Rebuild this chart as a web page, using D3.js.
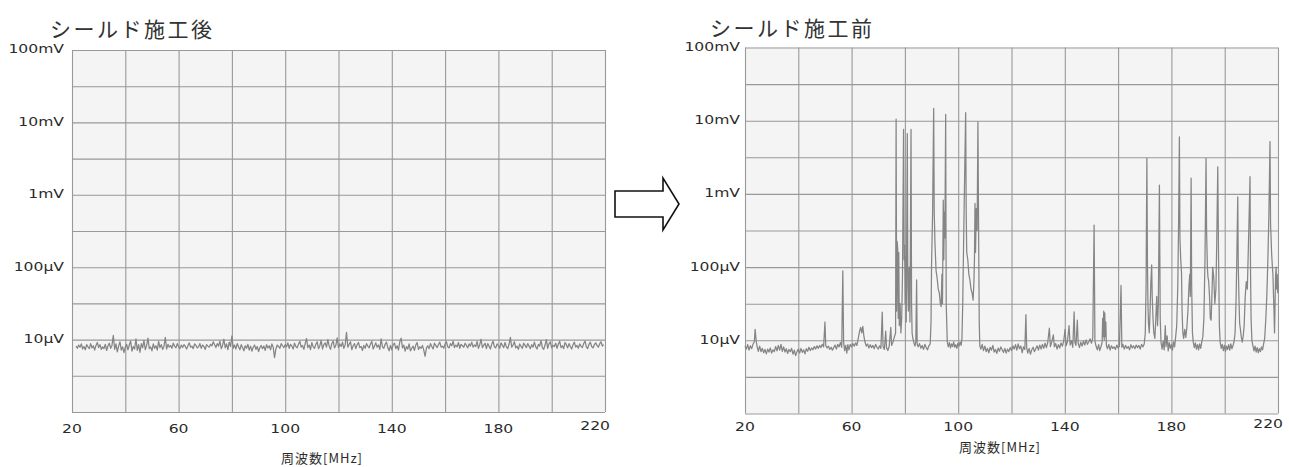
<!DOCTYPE html>
<html>
<head>
<meta charset="utf-8">
<script src="https://cdn.jsdelivr.net/npm/d3@7"></script>
<style>
  body { margin: 0; background: #fff; }
  .grid line { stroke: #999; stroke-width: 1.1; }
  .grid path { display: none; }
  .trace { fill: none; stroke: #858585; stroke-width: 1.25; stroke-linejoin: round; }
  .lbl { font-family: "DejaVu Sans", sans-serif; font-size: 12px; fill: #2a2a2a; }
  .ttl { font-family: "Noto Sans CJK JP", sans-serif; font-size: 21px; fill: #333; letter-spacing: 2.5px; }
  .xttl { font-family: "Noto Sans CJK JP", sans-serif; font-size: 13px; fill: #2a2a2a; letter-spacing: 1px; }
</style>
</head>
<body>
<svg id="chart" width="1289" height="467"></svg>
<script>
// Axis ticks (frequency in MHz, level in dBuV)
var freqTicks   = [20, 60, 100, 140, 180, 220];
var levelTicks  = [20, 40, 60, 80, 100];
var levelLabels = ["10μV", "100μV", "1mV", "10mV", "100mV"];
var titles      = ["シールド施工後", "シールド施工前"];
var freqTitle   = "周波数[MHz]";

// After shielding: sweep from 21.5 MHz, one reading per 0.5 MHz (dBuV)
var afterStart = 21.5, afterStep = 0.5;
var afterLevels = [
  18.2, 17.6, 18.5, 17.9, 18.8, 17.4, 18.1, 17.2, 18.6, 18.0, 17.5, 18.9, 17.7, 18.3, 17.1, 18.4, 19.2, 17.8, 18.6, 17.3,
  18.0, 17.5, 18.7, 17.0, 18.3, 19.0, 17.6, 18.4, 21.2, 17.3, 18.8, 16.6, 18.2, 19.4, 17.1, 18.0, 16.4, 17.9, 18.7, 17.2,
  18.5, 19.6, 16.8, 18.1, 17.4, 20.2, 17.0, 18.6, 16.5, 18.9, 17.7, 19.8, 17.2, 18.4, 20.4, 17.5, 18.0, 16.9, 18.8, 17.6,
  18.3, 17.1, 19.5, 17.8, 18.6, 17.3, 18.1, 20.6, 17.4, 18.7, 17.9, 18.4, 17.6, 19.0, 18.2, 17.7, 18.9, 18.0, 17.5, 18.5,
  17.8, 18.6, 18.1, 17.4, 18.3, 19.1, 17.9, 18.2, 17.5, 18.8, 18.4, 17.7, 18.0, 18.9, 17.6, 18.5, 18.1, 17.3, 18.6, 18.2,
  17.9, 18.7, 18.3, 19.4, 18.6, 17.8, 18.9, 18.2, 19.6, 17.5, 18.4, 20.1, 17.7, 18.8, 17.2, 19.3, 18.1, 21.0, 17.6, 18.5,
  17.4, 18.9, 18.0, 17.2, 18.6, 17.8, 16.9, 18.3, 17.6, 18.7, 17.1, 18.2, 16.8, 17.9, 18.5, 17.3, 18.1, 16.7, 17.8, 18.4,
  17.5, 18.2, 17.0, 18.6, 17.7, 18.3, 17.2, 18.8, 17.9, 15.0, 17.4, 18.5, 18.1, 17.6, 18.9, 18.3, 17.8, 18.6, 18.0, 19.1,
  17.6, 18.7, 18.2, 17.4, 19.0, 18.1, 17.7, 18.8, 19.5, 17.9, 18.4, 17.3, 18.9, 20.3, 17.8, 18.5, 17.2, 19.2, 18.0, 17.6,
  18.7, 19.4, 17.5, 18.3, 19.8, 17.4, 18.6, 19.1, 17.9, 20.0, 18.2, 17.3, 18.9, 19.6, 17.7, 18.4, 20.5, 17.8, 18.8, 18.1,
  19.3, 17.6, 18.5, 22.0, 17.9, 18.7, 19.4, 17.2, 18.3, 18.9, 17.5, 18.6, 19.2, 17.8, 18.1, 17.0, 18.4, 17.6, 18.9, 18.2,
  17.7, 18.8, 19.5, 17.4, 18.2, 19.1, 17.9, 18.5, 17.3, 20.2, 18.0, 17.6, 18.7, 19.3, 17.8, 16.9, 18.4, 17.2, 18.6, 19.0,
  17.5, 18.3, 17.1, 19.4, 20.4, 17.7, 18.5, 16.8, 18.1, 17.4, 18.8, 16.9, 17.6, 18.2, 17.0, 18.5, 19.2, 17.3, 18.0, 17.6,
  18.4, 17.1, 15.4, 17.7, 18.3, 17.5, 18.9, 18.1, 17.4, 19.0, 18.4, 17.8, 18.6, 19.3, 17.9, 18.2, 17.6, 18.8, 19.4, 18.0,
  17.7, 18.9, 18.3, 19.6, 17.8, 18.5, 18.0, 19.2, 17.6, 18.7, 18.3, 17.9, 19.0, 18.4, 17.7, 18.8, 18.2, 19.3, 17.9, 18.5,
  18.1, 19.5, 17.6, 18.6, 20.1, 17.8, 18.4, 19.0, 17.5, 18.9, 18.2, 17.4, 18.7, 19.6, 18.0, 17.7, 18.8, 18.3, 17.6, 19.1,
  18.4, 17.8, 19.2, 18.0, 17.5, 18.7, 20.6, 17.9, 18.5, 19.4, 17.7, 18.2, 17.3, 18.8, 18.1, 17.6, 19.0, 18.4, 17.8, 18.9,
  18.2, 17.5, 18.6, 17.9, 19.3, 18.0, 17.4, 18.7, 18.2, 19.7, 17.8, 17.3, 18.5, 20.0, 17.6, 18.9, 19.4, 17.7, 18.4, 18.1,
  19.0, 17.6, 18.8, 19.5, 17.8, 18.3, 17.5, 19.2, 18.6, 17.7, 18.9, 18.1, 17.4, 18.6, 19.3, 17.9, 18.4, 17.6, 18.8, 18.2,
  17.8, 18.9, 19.6, 18.0, 17.5, 18.7, 19.3, 18.1, 17.7, 18.6, 19.1, 18.4, 17.9, 18.8, 19.4, 18.2, 18.6
];

// Before shielding: [MHz, dBuV]
var beforeTrace = [
  [20,18.4],[20.5,17.6],[21,18.8],[21.5,17.3],[22,18.5],[22.5,17.7],[23,18.9],[23.5,19.6],[23.8,23.0],[24.2,19.8],
  [24.6,18.1],[25,17.0],[25.5,18.4],[26,16.9],[26.5,17.8],[27,16.6],[27.5,17.5],[28,16.3],[28.5,17.6],[29,16.8],
  [29.5,17.9],[30,16.5],[30.5,17.4],[31,16.9],[31.5,18.3],[32,17.1],[32.5,18.6],[33,17.3],[33.5,18.9],[34,17.0],
  [34.5,18.2],[35,16.8],[35.5,17.7],[36,16.4],[36.5,17.5],[37,16.9],[37.5,17.8],[38,16.2],[38.5,17.3],[39,15.8],
  [39.5,16.9],[40,17.6],[40.5,16.5],[41,17.8],[41.5,16.7],[42,17.4],[42.5,16.3],[43,17.7],[43.5,17.0],[44,18.1],
  [44.5,17.2],[45,17.9],[45.5,17.4],[46,18.3],[46.5,17.6],[47,18.5],[47.5,17.8],[48,18.6],[48.5,18.0],[49,18.9],
  [49.5,18.2],[50,25.0],[50.3,18.6],[50.8,17.9],[51.3,18.4],[51.8,17.5],[52.3,18.1],[52.8,17.3],[53.3,18.0],[53.8,18.7],
  [54.3,17.6],[54.8,18.9],[55.3,18.2],[55.8,19.4],[56.3,18.1],[56.7,39.0],[57.0,19.5],[57.4,17.2],[57.8,18.6],[58.2,16.5],
  [58.6,18.8],[59,17.4],[59.5,18.9],[60,18.2],[60.5,19.1],[61,18.4],[61.5,19.3],[62,18.6],[62.5,20.5],[63,22.5],
  [63.4,23.5],[63.8,22.0],[64.2,23.8],[64.6,21.2],[65,19.6],[65.5,18.4],[66,19.0],[66.5,17.9],[67,18.8],[67.5,18.0],
  [68,18.6],[68.5,17.7],[69,18.9],[69.5,18.1],[70,17.6],[70.5,18.5],[71,17.8],[71.5,27.7],[71.8,18.4],[72.3,17.5],
  [72.8,22.5],[73.1,18.0],[73.6,17.2],[74.1,18.3],[74.7,23.5],[75.0,18.6],[75.5,19.5],[76,20.8],
  [76.5,22],[76.7,80.4],[76.9,28],[77.1,47],[77.3,45],[77.5,26],[77.7,44],[77.9,24],[78.2,30],[78.5,22],
  [78.8,26],[79.1,38],[79.5,77.6],[79.7,42],[79.9,46],[80.1,30],[80.3,43],[80.5,25],[80.9,76.5],[81.1,35],
  [81.3,28],[81.6,40],[81.9,25],[82.3,77.6],[82.5,30],[82.7,22],[83.0,20.5],[83.4,19.2],[83.8,18.4],[84.1,19.8],
  [84.4,36.5],[84.6,19.0],[85,18.2],[85.5,19.1],[86,17.8],[86.5,18.6],[87,17.5],[87.5,18.9],[88,18.0],[88.5,17.4],
  [89,18.5],[89.5,19.0],
  [89.8,25],[90.0,40.6],[90.4,55],[90.8,83.4],[91.0,55],[91.3,46],[91.7,39],[92.1,37],[92.5,34],[92.9,33],
  [93.3,30],[93.6,29.2],[93.9,38],[94.1,30],[94.4,58.3],[94.6,42],[94.8,55],[95.0,48],[95.3,81.7],[95.5,30],
  [95.7,24.7],[95.9,19.5],[96.3,18.2],[96.7,19.4],[97.1,17.9],[97.5,19.0],[97.9,18.3],[98.3,19.6],[98.7,18.1],[99.1,18.8],
  [99.5,17.8],[99.9,19.2],[100.3,18.4],[100.7,19.5],[101.1,18.6],[101.4,20.5],
  [101.7,30],[102.2,55],[102.8,82.2],[103.0,55],[103.2,44],[103.6,42],[104.0,38],[104.4,36.5],[104.8,34],[105.2,33],
  [105.6,31],[105.9,36],[106.1,42],[106.3,57.4],[106.5,44],[106.8,56],[107.1,50],[107.4,79.7],[107.7,45],[107.9,25],
  [108.1,18.5],
  [108.5,17.6],[109,18.9],[109.5,17.2],[110,18.4],[110.5,16.9],[111,17.8],[111.5,16.6],[112,18.1],[112.5,17.3],[113,18.6],
  [113.5,16.8],[114,17.5],[114.5,16.4],[115,17.9],[115.5,17.0],[116,18.2],[116.5,17.4],[117,16.7],[117.5,17.8],[118,16.5],
  [118.5,17.6],[119,16.9],[119.5,18.0],[120,17.2],[120.5,18.5],[121,17.6],[121.5,18.8],[122,17.3],[122.5,19.0],[123,17.7],
  [123.5,18.4],[124,16.6],[124.5,18.2],[125,17.5],[125.4,27.0],[125.7,17.9],[126.1,16.5],[126.6,17.8],[127.1,16.2],[127.6,17.4],
  [128.1,18.1],[128.6,16.9],[129.1,17.7],[129.6,18.5],[130.1,17.3],[130.6,18.7],[131.1,17.6],[131.6,18.9],[132.1,17.8],[132.6,19.2],
  [133.1,18.0],[133.6,19.4],[134.2,23.3],[134.6,18.3],[135.1,19.5],[135.7,21.5],[136.1,18.2],[136.6,19.1],[137.1,17.6],[137.6,18.8],
  [138.1,17.9],[138.6,19.3],[139.1,18.4],[139.6,19.8],[140.1,23.0],[140.5,18.5],[141.0,19.6],[141.6,24.0],[142.0,18.7],[142.5,19.9],
  [143.0,18.1],[143.5,27.8],[143.8,19.4],[144.2,18.6],[144.7,25.5],[145.0,19.3],[145.5,18.0],[146,19.5],[146.5,18.4],[147,19.8],
  [147.5,18.7],[148,20.1],[148.5,18.9],[149,19.6],[149.5,20.4],[150,19.2],[150.5,20.6],[151.0,51.5],[151.3,19.8],[151.7,18.5],
  [152.2,17.4],[152.7,18.8],[153.1,17.2],[153.6,18.3],[154.0,19.5],[154.2,26],[154.4,21],[154.6,28],[154.8,20],[155.0,27.5],
  [155.2,21],[155.4,25],[155.6,18.6],[156,17.7],[156.5,18.9],[157,17.3],[157.5,18.5],[158,17.8],[158.5,18.2],[159,17.5],
  [159.5,18.7],[160,17.9],[160.5,18.4],[161.1,35.0],[161.4,18.1],[161.8,18.9],[162.3,17.6],[162.8,18.6],[163.3,17.8],[163.8,18.3],
  [164.3,17.4],[164.8,18.8],[165.3,17.9],[165.8,18.5],[166.3,17.7],[166.8,18.7],[167.3,18.0],[167.8,18.6],[168.3,17.6],[168.8,18.9],
  [169.3,18.2],[169.8,19.0],
  [170.2,22],[170.5,35],[170.8,69.7],[171.0,42],[171.2,30],[171.4,24.7],[171.7,22],[172.0,28],[172.3,36],[172.6,40.6],
  [172.8,32],[173.1,26],[173.4,22],[173.8,20.5],[174.1,25],[174.5,32],[174.8,24],[175.1,30],[175.5,62.4],[175.8,26],
  [176.1,19.5],[176.5,17.6],[176.9,19.8],[177.3,17.4],[177.7,24.0],[178.0,18.3],[178.4,21.2],[178.8,17.1],[179.2,19.4],[179.6,17.8],
  [180.0,18.9],[180.4,17.3],[180.8,19.6],[181.2,18.2],[181.6,21.0],[182.0,24],[182.4,35],[182.7,52],[183.0,75.6],[183.2,48],
  [183.5,42],[183.8,38.3],[184.0,28],[184.3,22],[184.6,20.5],[185.0,23],[185.4,20.8],[185.8,23.5],[186.2,28],[186.6,35],
  [186.9,38],[187.1,32],[187.4,64.3],[187.6,35],[187.9,22],[188.2,19.5],[188.6,18.0],[189.0,19.3],[189.4,17.6],[189.8,18.8],
  [190.2,17.4],[190.6,19.0],[191.0,17.8],[191.4,19.6],[191.8,21.0],[192.2,26],[192.6,42],[193.0,69.7],[193.2,50],[193.5,40],
  [193.7,37.4],[194.0,36],[194.3,32],[194.6,26],[194.9,25.5],[195.2,32],[195.5,40],[195.9,37],[196.3,30],[196.7,34],
  [197.0,46],[197.4,67.4],[197.7,42],[198.0,24],[198.3,19.5],[198.7,17.8],[199.1,18.9],[199.5,17.2],[199.9,18.6],[200.3,17.0],
  [200.7,18.4],[201.1,17.5],[201.5,18.8],[201.9,17.3],[202.3,19.0],[202.7,17.7],[203.1,18.5],[203.5,19.6],[203.9,22],[204.3,32],
  [204.6,45],[204.9,59.2],[205.1,40],[205.4,30],[205.6,24.7],[205.9,23],[206.2,21],[206.6,19.5],[207.0,21.5],[207.3,24],
  [207.7,32],[208.1,36],[208.5,34],[208.9,46],[209.2,55],[209.5,64.7],[209.7,38],[209.9,26],[210.2,20],[210.6,18.5],
  [211.0,17.1],[211.4,18.4],[211.8,16.8],[212.2,18.0],[212.6,16.6],[213.0,17.7],[213.4,16.9],[213.8,18.2],[214.2,17.4],[214.6,19.0],
  [215.0,20.5],[215.4,25.5],[215.8,32],[216.2,42],[216.6,55],[217.0,74.3],[217.2,52],[217.4,48],[217.6,43.8],[217.9,40],
  [218.1,38],[218.3,32.6],[218.5,28],[218.7,22],[218.9,30],[219.1,37.7],[219.3,40],[219.5,34],[219.7,38],[219.9,33],
  [220.0,35]
];

var afterTrace = afterLevels.map(function(v, i) { return [afterStart + i * afterStep, v]; });

var panels = [
  { title: titles[0], trace: afterTrace,  left: 72,  top: 50,   width: 533, height: 362,
    titleX: 50,  titleY: 27.5, labelDx: -8, tickDy: 16.3, xTitleX: 322,  xTitleY: 457 },
  { title: titles[1], trace: beforeTrace, left: 745, top: 47.5, width: 533, height: 366,
    titleX: 710, titleY: 26.5, labelDx: -5, tickDy: 12.7, xTitleX: 1000, xTitleY: 446 }
];

var svg = d3.select("#chart");

panels.forEach(function(p) {
  var x = d3.scaleLinear().domain([20, 220]).range([0, p.width]);
  var y = d3.scaleLinear().domain([0, 100]).range([p.height, 0]);

  var g = svg.append("g").attr("transform", "translate(" + p.left + "," + p.top + ")");

  g.append("rect")
    .attr("width", p.width).attr("height", p.height)
    .attr("fill", "#f4f4f4");

  // 20 MHz / 10 dB divisions
  g.append("g").attr("class", "grid")
    .attr("transform", "translate(0," + p.height + ")")
    .call(d3.axisBottom(x).tickValues(d3.range(20, 221, 20)).tickSize(-p.height).tickFormat(""));
  g.append("g").attr("class", "grid")
    .call(d3.axisLeft(y).tickValues(d3.range(0, 101, 10)).tickSize(-p.width).tickFormat(""));

  var line = d3.line()
    .x(function(d) { return x(d[0]); })
    .y(function(d) { return y(d[1]); });

  g.append("path").attr("class", "trace").datum(p.trace).attr("d", line);

  // Level labels, wide face
  levelTicks.forEach(function(t, i) {
    g.append("text").attr("class", "lbl")
      .attr("text-anchor", "end")
      .attr("transform", "translate(" + p.labelDx + "," + (y(t) + 3.4) + ") scale(1.3,1)")
      .text(levelLabels[i]);
  });

  // Frequency labels; the last one sits left of the edge as in the print
  freqTicks.forEach(function(t, i) {
    var last = (i == freqTicks.length - 1);
    var tx = last ? x(t) + 5 : x(t);
    var ty = p.height + p.tickDy + 4.4 - (last ? 3 : 0);
    g.append("text").attr("class", "lbl")
      .attr("text-anchor", last ? "end" : "middle")
      .attr("transform", "translate(" + tx + "," + ty + ") scale(1.3,1)")
      .text(t);
  });

  svg.append("text").attr("class", "ttl")
    .attr("x", p.titleX).attr("y", p.titleY)
    .attr("dominant-baseline", "central")
    .text(p.title);

  svg.append("text").attr("class", "xttl")
    .attr("x", p.xTitleX).attr("y", p.xTitleY)
    .attr("text-anchor", "middle")
    .attr("dominant-baseline", "central")
    .text(freqTitle);
});

// Outline arrow between the two charts
var arrow = { x: 615, y: 204, bodyLen: 48, bodyHalf: 13, headLen: 16, headHalf: 26 };
svg.append("polygon")
  .attr("points", [
    [arrow.x, arrow.y - arrow.bodyHalf],
    [arrow.x + arrow.bodyLen, arrow.y - arrow.bodyHalf],
    [arrow.x + arrow.bodyLen, arrow.y - arrow.headHalf],
    [arrow.x + arrow.bodyLen + arrow.headLen, arrow.y],
    [arrow.x + arrow.bodyLen, arrow.y + arrow.headHalf],
    [arrow.x + arrow.bodyLen, arrow.y + arrow.bodyHalf],
    [arrow.x, arrow.y + arrow.bodyHalf]
  ].map(function(q) { return q.join(","); }).join(" "))
  .attr("fill", "#fff")
  .attr("stroke", "#111")
  .attr("stroke-width", 1.6);
</script>
</body>
</html>
